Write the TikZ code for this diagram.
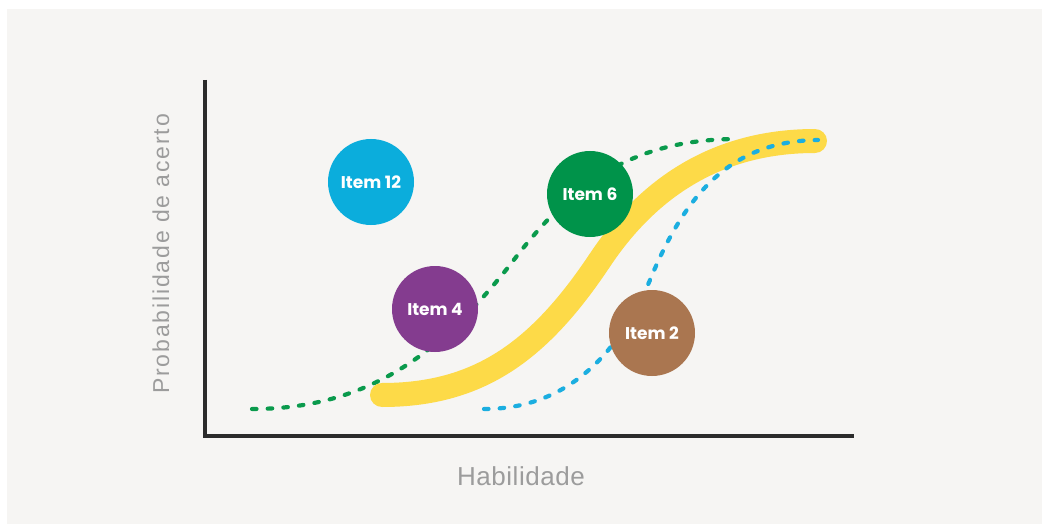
\documentclass[tikz,border=0pt]{standalone}
\usepackage{fontspec}
\setmainfont{Liberation Sans}
\newfontfamily\axfont[LetterSpace=8]{Liberation Sans}
\newfontfamily\axxfont[LetterSpace=2]{Liberation Sans}
\newfontfamily\itfont{Poppins}
\definecolor{bggray}{HTML}{F6F5F3}
\definecolor{axcol}{HTML}{2B2B2B}
\definecolor{labgray}{HTML}{9C9C9C}
\definecolor{cblue}{HTML}{0BADDC}
\definecolor{cgreen}{HTML}{00934A}
\definecolor{cpurple}{HTML}{843C8F}
\definecolor{cbrown}{HTML}{AA7650}
\definecolor{cyellow}{HTML}{FDDA48}
\definecolor{dgreen}{HTML}{0A9A4C}
\definecolor{dblue}{HTML}{1BAEE0}
\tikzset{
  itemc/.style={circle, minimum size=86pt, inner sep=0pt, text=white,
    font=\itfont\bfseries\fontsize{17}{19}\selectfont},
  dotcurve/.style={line width=4.2pt, line cap=round, dash pattern=on 4.5pt off 11.2pt},
  axlab/.style={text=labgray}
}
\begin{document}
\begin{tikzpicture}[x=1pt,y=-1pt]
\useasboundingbox (0,0) rectangle (1042,524);
\fill[white] (0,0) rectangle (1042,524);
\fill[bggray] (7,9) rectangle (1042,524);
% axes
\coordinate (ytop) at (205,80);
\coordinate (orig) at (205,436);
\coordinate (xend) at (854,436);
\draw[axcol, line width=3.6pt] (ytop) -- (orig) -- (xend);
% labels
\node[axlab, rotate=90, font=\axfont\fontsize{23}{26}\selectfont] (ylab) at (161,254) {Probabilidade de acerto};
\node[axlab, font=\axxfont\fontsize{26}{30}\selectfont] (xlab) at (521,476) {Habilidade};
% green dashed curve
\coordinate (g0) at (252,409);
\coordinate (g1) at (510,265);
\coordinate (g2) at (735,139);
\draw[dgreen, dotcurve] (g0) .. controls (380,409) and (450,340) .. (g1)
  .. controls (570,185) and (630,140) .. (g2);
% yellow curve
\coordinate (y0) at (382,395);
\coordinate (y1) at (600,260);
\coordinate (y2) at (815,141);
\draw[cyellow, line width=24pt, line cap=round] (y0) .. controls (480,395) and (540,350) .. (y1)
  .. controls (650,185) and (720,141) .. (y2);
% blue dashed curve
\coordinate (b0) at (484,409);
\coordinate (b1) at (650,280);
\coordinate (b2) at (818,140);
\draw[dblue, dotcurve] (b0) .. controls (570,409) and (620,350) .. (b1)
  .. controls (685,195) and (730,141) .. (b2);
% items
\node[itemc, fill=cblue] (i12) at (371,182) {Item 12};
\node[itemc, fill=cgreen] (i6) at (590,194) {Item 6};
\node[itemc, fill=cpurple] (i4) at (435,309) {Item 4};
\node[itemc, fill=cbrown] (i2) at (652,333) {Item 2};
\end{tikzpicture}
\end{document}
